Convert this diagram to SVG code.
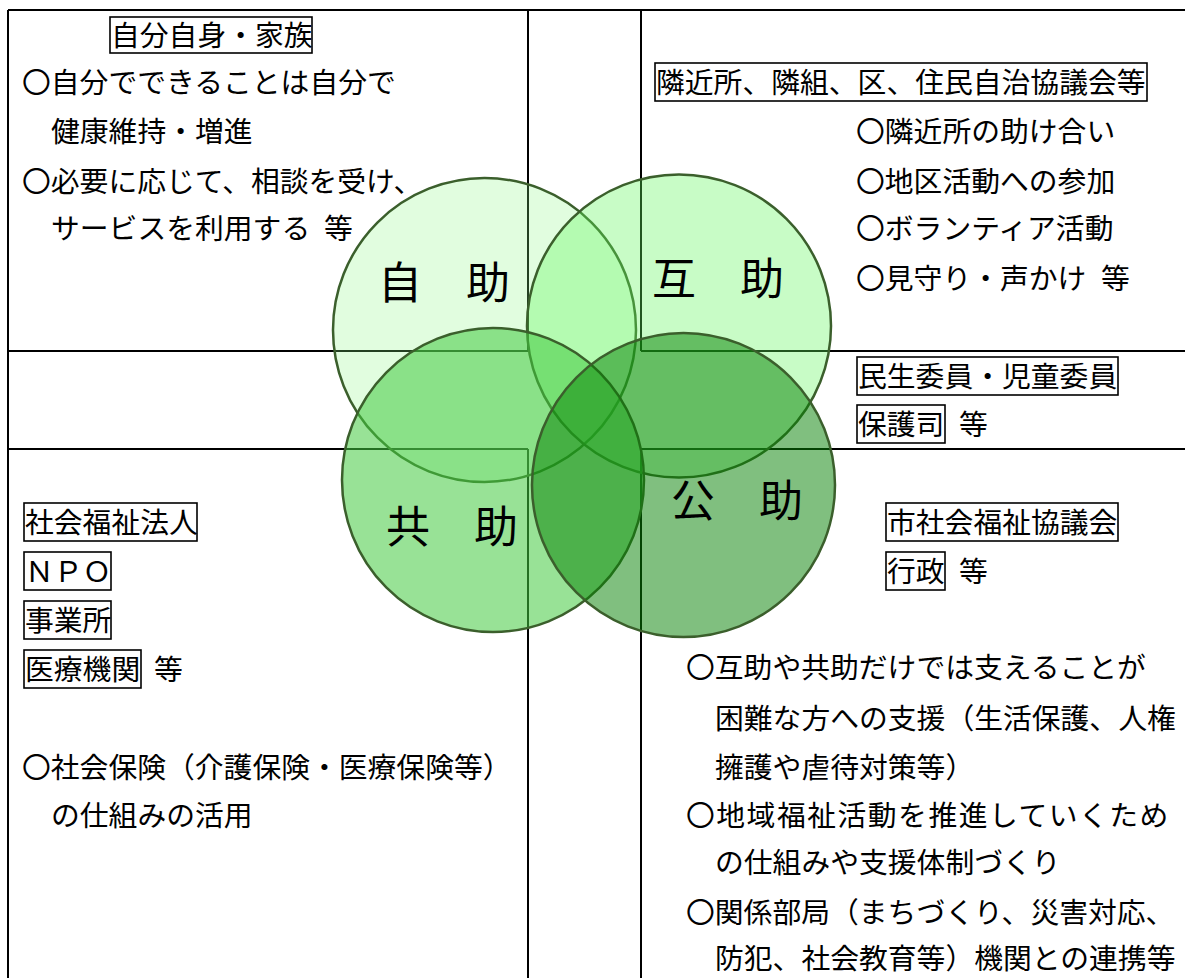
<svg xmlns="http://www.w3.org/2000/svg" width="1185" height="978" viewBox="0 0 1185 978">
<style>
.ln{stroke:#000;stroke-width:2;fill:none}
.circ{stroke:#3b5f2c;stroke-width:2.5}
.t{font-family:"Noto Sans CJK JP","Noto Sans",sans-serif;font-size:28.8px;fill:#000}
.big{font-family:"Noto Sans CJK JP","Noto Sans",sans-serif;font-size:44px;fill:#000}
.box{fill:none;stroke:#000;stroke-width:1.6}
</style>
<rect width="1185" height="978" fill="#fff"/>
<g id="grid">
<path class="ln" d="M8,10 H1185 M8,10 V978 M528,10 V351 M641,10 V351 M528,449 V978 M641,449 V978 M8,351 H528 M641,351 H1185 M8,449 H528 M641,449 H1185"/>
</g>
<g id="circles">
<g id="jijo"><ellipse class="circ" cx="484.5" cy="330" rx="151.5" ry="152" fill="rgb(140,248,132)" fill-opacity="0.26"/></g>
<g id="gojo"><ellipse class="circ" cx="679" cy="326" rx="152" ry="151.5" fill="rgb(96,246,90)" fill-opacity="0.345"/></g>
<g id="kyojo"><ellipse class="circ" cx="493" cy="480" rx="151" ry="152" fill="rgb(68,202,64)" fill-opacity="0.55"/></g>
<g id="kojo"><ellipse class="circ" cx="683.5" cy="485" rx="151.5" ry="152" fill="rgb(6,129,4)" fill-opacity="0.51"/></g>
</g>
<g id="circle-labels">
<text class="big" x="378" y="299">自　助</text>
<text class="big" x="652" y="295">互　助</text>
<text class="big" x="386" y="543">共　助</text>
<text class="big" x="671" y="517">公　助</text>
</g>
<g id="self">
<rect class="box" x="110" y="17" width="202" height="36"/>
<text class="t" x="111" y="46">自分自身・家族</text>
<text class="t" x="22" y="93">〇自分でできることは自分で</text>
<text class="t" x="51" y="142">健康維持・増進</text>
<text class="t" x="22" y="192">〇必要に応じて、相談を受け、</text>
<text class="t" x="51" y="239">サービスを利用する <tspan x="324">等</tspan></text>
</g>
<g id="mutual">
<rect class="box" x="655" y="63" width="492" height="38"/>
<text class="t" x="656" y="93">隣近所、隣組、区、住民自治協議会等</text>
<text class="t" x="856" y="142">〇隣近所の助け合い</text>
<text class="t" x="856" y="192">〇地区活動への参加</text>
<text class="t" x="856" y="239">〇ボランティア活動</text>
<text class="t" x="856" y="289">〇見守り・声かけ <tspan x="1101">等</tspan></text>
</g>
<g id="volunteers">
<rect class="box" x="857" y="357" width="261" height="38"/>
<text class="t" x="858" y="387">民生委員・児童委員</text>
<rect class="box" x="857" y="405" width="88" height="38"/>
<text class="t" x="858" y="435">保護司 <tspan x="959">等</tspan></text>
</g>
<g id="public">
<rect class="box" x="886" y="503" width="232" height="38"/>
<text class="t" x="887" y="533">市社会福祉協議会</text>
<rect class="box" x="886" y="552" width="59" height="38"/>
<text class="t" x="887" y="582">行政 <tspan x="959">等</tspan></text>
<text class="t" x="686" y="678">〇互助や共助だけでは支えることが</text>
<text class="t" x="715" y="729">困難な方への支援（生活保護、人権</text>
<text class="t" x="715" y="778">擁護や虐待対策等）</text>
<text class="t" x="686" y="826" letter-spacing="1.5">〇地域福祉活動を推進していくため</text>
<text class="t" x="715" y="873">の仕組みや支援体制づくり</text>
<text class="t" x="686" y="923">〇関係部局（まちづくり、災害対応、</text>
<text class="t" x="715" y="969">防犯、社会教育等）機関との連携等</text>
</g>
<g id="cooperative">
<rect class="box" x="24" y="503" width="173" height="38"/>
<text class="t" x="25" y="533">社会福祉法人</text>
<rect class="box" x="24" y="552" width="87" height="38"/>
<text class="t" x="25" y="582">ＮＰＯ</text>
<rect class="box" x="24" y="601" width="87" height="38"/>
<text class="t" x="25" y="631">事業所</text>
<rect class="box" x="24" y="650" width="117" height="38"/>
<text class="t" x="25" y="680">医療機関 <tspan x="154">等</tspan></text>
<text class="t" x="22" y="778">〇社会保険（介護保険・医療保険等）</text>
<text class="t" x="51" y="826">の仕組みの活用</text>
</g>
</svg>
